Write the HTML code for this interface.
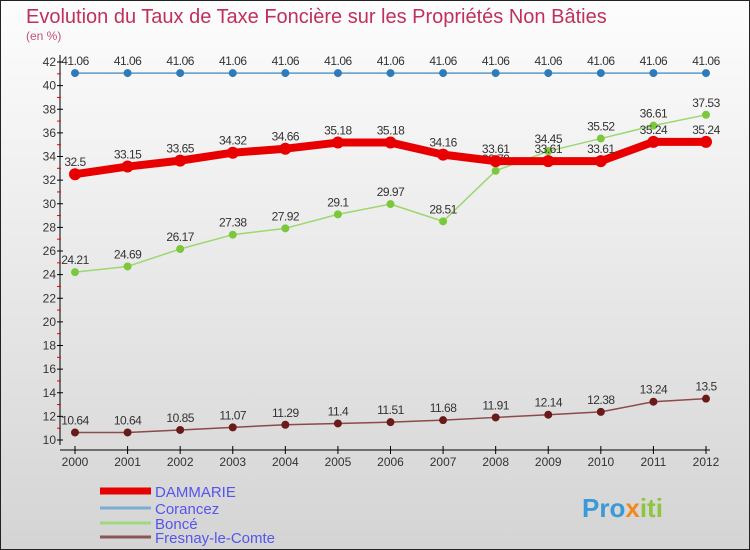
<!DOCTYPE html>
<html><head><meta charset="utf-8"><style>
body{margin:0}
svg{display:block;font-family:"Liberation Sans",sans-serif}
</style></head><body>
<svg id="c" width="750" height="550" viewBox="0 0 750 550">
<defs><linearGradient id="bg" x1="0" y1="0" x2="0" y2="1"><stop offset="0" stop-color="#fdfdfd"/><stop offset="1" stop-color="#d4d4d4"/></linearGradient></defs>
<rect x="0.5" y="0.5" width="749" height="549" fill="url(#bg)" stroke="#222"/>
<text x="26" y="23" font-size="20" fill="#c0305a">Evolution du Taux de Taxe Foncière sur les Propriétés Non Bâties</text>
<text x="26" y="40" font-size="12" fill="#c0507a">(en %)</text>
<g id="axes"></g><g id="series"></g><g id="legend"></g>
<text x="582" y="517" font-size="26" font-weight="bold" fill="#3a9ad8">Pro<tspan fill="#f08a1c">x</tspan><tspan fill="#8cc63f">iti</tspan></text>
</svg>
<script>
const years=[2000,2001,2002,2003,2004,2005,2006,2007,2008,2009,2010,2011,2012];
const yTicks=[10,12,14,16,18,20,22,24,26,28,30,32,34,36,38,40,42];
const dammarie=[32.5,33.15,33.65,34.32,34.66,35.18,35.18,34.16,33.61,33.61,33.61,35.24,35.24];
const corancez=[41.06,41.06,41.06,41.06,41.06,41.06,41.06,41.06,41.06,41.06,41.06,41.06,41.06];
const bonce=[24.21,24.69,26.17,27.38,27.92,29.1,29.97,28.51,32.79,34.45,35.52,36.61,37.53];
const fresnay=[10.64,10.64,10.85,11.07,11.29,11.4,11.51,11.68,11.91,12.14,12.38,13.24,13.5];
const NS="http://www.w3.org/2000/svg";
const x=i=>75+i*(706-75)/12;
const y=v=>440-(v-10)*(440-62)/32;
function el(p,t,a){const e=document.createElementNS(NS,t);for(const k in a)e.setAttribute(k,a[k]);p.appendChild(e);return e;}
const ax=document.getElementById('axes');
let l=el(ax,'line',{x1:60,y1:55,x2:60,y2:445,stroke:'#000'});


l=el(ax,'line',{x1:60,y1:450,x2:710,y2:450,stroke:'#000'});


yTicks.forEach(v=>{
 el(ax,'line',{x1:57,y1:y(v),x2:63,y2:y(v),stroke:'#000'});
 if(v<42)el(ax,'line',{x1:57,y1:y(v+1),x2:61,y2:y(v+1),stroke:'#e00'});
 const t=el(ax,'text',{x:56,y:y(v)+4,'font-size':12,fill:'#333','text-anchor':'end'});
 t.textContent=v;
 
 
});
years.forEach((yr,i)=>{
 el(ax,'line',{x1:x(i),y1:446,x2:x(i),y2:454,stroke:'#000'});
 const t=el(ax,'text',{x:x(i),y:466,'font-size':12,fill:'#333','text-anchor':'middle'});
 t.textContent=yr;
 
 
});
const sg=document.getElementById('series');
function series(name,data,color,w,r,dot){
 const g=el(sg,'g',{});
 
 
 const pl=el(g,'polyline',{points:data.map((v,i)=>x(i)+','+y(v)).join(' '),fill:'none',stroke:color,'stroke-width':w,'stroke-linejoin':'round'});
 
 
 data.forEach((v,i)=>{
  const c=el(g,'circle',{cx:x(i),cy:y(v),r:r,fill:dot});
  
  
  const t=el(g,'text',{x:x(i),y:y(v)-8,'font-size':12,fill:'#333','text-anchor':'middle','letter-spacing':'-0.5'});
  t.textContent=v;
  
  
 });
}
series('fresnay',fresnay,'#8b4a4a',1.5,4,'#6b1a1a');
series('bonce',bonce,'#9ad870',1.5,4,'#7cc83c');
series('corancez',corancez,'#5a9ac8',1.5,4,'#2f7ab8');
series('dammarie',dammarie,'#e80000',8,6,'#e80000');
const lg=document.getElementById('legend');
[['DAMMARIE','#e80000',7,491],['Corancez','#7aaed0',3,508],['Boncé','#a0d880',3,523],['Fresnay-le-Comte','#8b5555',3,537]].forEach(([n,c,w,yy])=>{
 const g=el(lg,'g',{});
 
 
 el(g,'line',{x1:100,y1:yy,x2:151,y2:yy,stroke:c,'stroke-width':w});
 const t=el(g,'text',{x:155,y:yy+6,'font-size':15,fill:'#5555ee'});
 t.textContent=n;
});
</script>
</body></html>
